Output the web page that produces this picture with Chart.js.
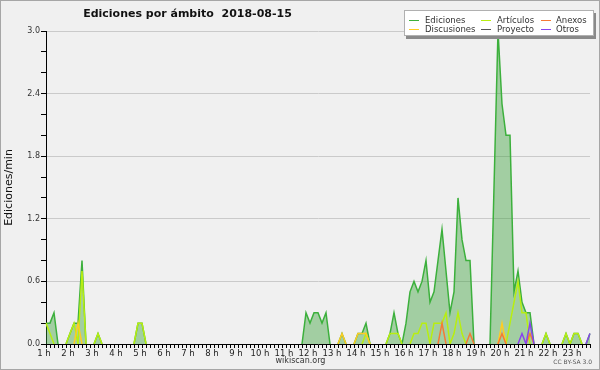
<!DOCTYPE html>
<html>
<head>
<meta charset="utf-8">
<script src="https://cdn.jsdelivr.net/npm/chart.js@4/dist/chart.umd.min.js"></script>
<style>
html,body{margin:0;padding:0;background:#f0f0f0;}
#wrap{position:relative;width:600px;height:370px;background:#f0f0f0;overflow:hidden;font-family:"DejaVu Sans",sans-serif;}
#c{position:absolute;left:0;top:0;}
#frame{position:absolute;left:0;top:0;width:600px;height:370px;box-sizing:border-box;border:1px solid #a6a6a6;pointer-events:none;}
#title{position:absolute;left:0;top:8px;width:375px;text-align:center;font-weight:bold;font-size:11px;line-height:12px;color:#111;white-space:pre;}
#legend{position:absolute;left:404px;top:10px;width:188px;height:24px;background:#fff;border:1px solid #b0b0b0;box-shadow:2px 3px 0 #8a8a8a;}
.sw{position:absolute;width:10px;height:1px;}
.lt{position:absolute;font-size:8.5px;line-height:10px;color:#333;white-space:pre;}
#site{position:absolute;left:250px;width:101px;top:356px;text-align:center;font-size:8px;line-height:10px;color:#333;}
#lic{position:absolute;left:540px;width:52px;top:358px;text-align:right;font-size:6px;line-height:8px;color:#555;}
</style>
</head>
<body>
<div id="wrap">
<canvas id="c" width="600" height="370"></canvas>
<div id="title">Ediciones por ámbito  2018-08-15</div>
<div id="legend"></div>
<div id="site">wikiscan.org</div>
<div id="lic">CC BY-SA 3.0</div>
<div id="frame"></div>
</div>
<script>
// Tick labels of the time axis (one per hour, every 6th 10-minute sample)
const hourLabels = ["1 h","2 h","3 h","4 h","5 h","6 h","7 h","8 h","9 h","10 h","11 h","12 h",
  "13 h","14 h","15 h","16 h","17 h","18 h","19 h","20 h","21 h","22 h","23 h"];

// Edits per minute, one value per 10 minutes starting at 1:00
const ediciones = [
  0.2,0.2,0.3,0,0,0,
  0.1,0.2,0.2,0.8,0,0,
  0,0.1,0,0,0,0,
  0,0,0,0,0,0.2,
  0.2,0,0,0,0,0,
  0,0,0,0,0,0,
  0,0,0,0,0,0,
  0,0,0,0,0,0,
  0,0,0,0,0,0,
  0,0,0,0,0,0,
  0,0,0,0,0,0.3,
  0.2,0.3,0.3,0.2,0.3,0,
  0,0,0.1,0,0,0,
  0.1,0.1,0.2,0,0,0,
  0,0,0.1,0.3,0.1,0,
  0.2,0.5,0.6,0.5,0.6,0.8,
  0.4,0.5,0.8,1.1,0.7,0.3,
  0.5,1.4,1.0,0.8,0.8,0,
  0,0,0,0,1.5,3.0,
  2.3,2.0,2.0,0.5,0.7,0.4,
  0.3,0.3,0,0,0,0.1,
  0,0,0,0,0.1,0,
  0.1,0.1,0,0,0.1
];
const articulos = [
  0.2,0.1,0,0,0,0,
  0.1,0.2,0,0.7,0,0,
  0,0.1,0,0,0,0,
  0,0,0,0,0,0.2,
  0.2,0,0,0,0,0,
  0,0,0,0,0,0,
  0,0,0,0,0,0,
  0,0,0,0,0,0,
  0,0,0,0,0,0,
  0,0,0,0,0,0,
  0,0,0,0,0,0,
  0,0,0,0,0,0,
  0,0,0,0,0,0,
  0,0,0.1,0,0,0,
  0,0,0.1,0.1,0.1,0,
  0,0,0.1,0.1,0.2,0.2,
  0,0.2,0.2,0.2,0.3,0,
  0.1,0.3,0.1,0,0,0,
  0,0,0,0,0,0,
  0,0,0.2,0.4,0.6,0.3,
  0.3,0,0,0,0,0.1,
  0,0,0,0,0.1,0,
  0.1,0.1,0,0,0
];
const anexos = [
  0,0,0,0,0,0,
  0,0,0,0,0,0,
  0,0,0,0,0,0,
  0,0,0,0,0,0,
  0,0,0,0,0,0,
  0,0,0,0,0,0,
  0,0,0,0,0,0,
  0,0,0,0,0,0,
  0,0,0,0,0,0,
  0,0,0,0,0,0,
  0,0,0,0,0,0,
  0,0,0,0,0,0,
  0,0,0,0,0,0,
  0,0,0,0,0,0,
  0,0,0,0,0,0,
  0,0,0,0,0,0,
  0,0,0,0.2,0,0,
  0,0,0,0,0.1,0,
  0,0,0,0,0,0,
  0.1,0,0,0,0,0,
  0,0.1,0,0,0,0,
  0,0,0,0,0,0,
  0,0,0,0,0
];
const discusiones = [
  0,0,0,0,0,0,
  0,0,0.2,0,0,0,
  0,0,0,0,0,0,
  0,0,0,0,0,0,
  0,0,0,0,0,0,
  0,0,0,0,0,0,
  0,0,0,0,0,0,
  0,0,0,0,0,0,
  0,0,0,0,0,0,
  0,0,0,0,0,0,
  0,0,0,0,0,0,
  0,0,0,0,0,0,
  0,0,0.1,0,0,0,
  0.1,0.1,0.1,0,0,0,
  0,0,0,0,0,0,
  0,0,0,0,0,0,
  0,0,0,0,0,0,
  0,0,0,0,0,0,
  0,0,0,0,0,0,
  0.2,0,0,0,0,0,
  0,0,0,0,0,0,
  0,0,0,0,0,0,
  0,0,0,0,0
];
const proyecto = [
  0,0,0,0,0,0, 0,0,0,0,0,0, 0,0,0,0,0,0, 0,0,0,0,0,0,
  0,0,0,0,0,0, 0,0,0,0,0,0, 0,0,0,0,0,0, 0,0,0,0,0,0,
  0,0,0,0,0,0, 0,0,0,0,0,0, 0,0,0,0,0,0, 0,0,0,0,0,0,
  0,0,0,0,0,0, 0,0,0,0,0,0, 0,0,0,0,0,0, 0,0,0,0,0,0,
  0,0,0,0,0,0, 0,0,0,0,0,0, 0,0,0,0,0,0, 0,0,0,0,0,0,
  0,0,0,0,0,0, 0,0,0,0,0,0, 0,0,0,0,0
];
const otros = [
  0,0,0,0,0,0,
  0,0,0,0,0,0,
  0,0,0,0,0,0,
  0,0,0,0,0,0,
  0,0,0,0,0,0,
  0,0,0,0,0,0,
  0,0,0,0,0,0,
  0,0,0,0,0,0,
  0,0,0,0,0,0,
  0,0,0,0,0,0,
  0,0,0,0,0,0,
  0,0,0,0,0,0,
  0,0,0,0,0,0,
  0,0,0,0,0,0,
  0,0,0,0,0,0,
  0,0,0,0,0,0,
  0,0,0,0,0,0,
  0,0,0,0,0,0,
  0,0,0,0,0,0,
  0,0,0,0,0,0.1,
  0,0.2,0,0,0,0,
  0,0,0,0,0,0,
  0,0,0,0,0.1
];

// Category labels: 10-minute slots from 1:00
const categories = ediciones.map((_, i) => {
  const m = 60 + i * 10;
  return Math.floor(m / 60) + ':' + String(m % 60).padStart(2, '0');
});

const series = [
  {label:'Ediciones',   data:ediciones,   color:'#3cb03c'},
  {label:'Artículos',   data:articulos,   color:'#b8ee10'},
  {label:'Anexos',      data:anexos,      color:'#f57a35'},
  {label:'Discusiones', data:discusiones, color:'#ffcc22'},
  {label:'Proyecto',    data:proyecto,    color:'#555555'},
  {label:'Otros',       data:otros,       color:'#8844ee'}
];

// HTML legend (box drawn on top of the plot, as in the reference)
const legendPos = [
  {lx:4,  tx:20,  row:0}, {lx:76, tx:92, row:0}, {lx:136, tx:151, row:0},
  {lx:4,  tx:20,  row:1}, {lx:76, tx:92, row:1}, {lx:136, tx:151, row:1}
];
const legOrder = ['Ediciones','Artículos','Anexos','Discusiones','Proyecto','Otros'];
const legEl = document.getElementById('legend');
legOrder.forEach((name, k) => {
  const s = series.find(d => d.label === name);
  const p = legendPos[k];
  const sw = document.createElement('div');
  sw.className = 'sw';
  sw.style.left = p.lx + 'px';
  sw.style.top = (p.row ? 18 : 8.5) + 'px';
  sw.style.background = s.color;
  legEl.appendChild(sw);
  const t = document.createElement('div');
  t.className = 'lt';
  t.style.left = p.tx + 'px';
  t.style.top = (p.row ? 13 : 3.5) + 'px';
  t.textContent = name;
  legEl.appendChild(t);
});

const isMajor = v => Math.abs(v / 0.6 - Math.round(v / 0.6)) < 1e-6;
const hideZero = ctx => (ctx.p0.parsed.y === 0 && ctx.p1.parsed.y === 0) ? 'rgba(0,0,0,0)' : undefined;

Chart.defaults.font.family = 'DejaVu Sans';

const drawOrder = {'Ediciones':6,'Artículos':5,'Proyecto':4,'Discusiones':3,'Anexos':2,'Otros':1};
const datasets = series.map(s => ({
  label: s.label,
  data: s.data,
  borderColor: s.color,
  backgroundColor: s.label === 'Ediciones' ? 'rgba(55,160,55,0.42)' : s.color,
  fill: s.label === 'Ediciones' ? 'origin' : false,
  borderWidth: 1.5,
  order: drawOrder[s.label],
  segment: {borderColor: hideZero}
}));

new Chart(document.getElementById('c'), {
  type: 'line',
  data: {labels: categories, datasets},
  options: {
    responsive: false,
    animation: false,
    devicePixelRatio: 1,
    layout: {padding: {top: 31, right: 10, left: 0, bottom: 0}},
    elements: {point: {radius: 0, hoverRadius: 0}, line: {tension: 0}},
    plugins: {legend: {display: false}, title: {display: false}, tooltip: {enabled: false}},
    events: [],
    scales: {
      x: {
        z: 1,
        grid: {drawOnChartArea: false, tickLength: 4, color: '#000', tickColor: '#000'},
        border: {color: '#000', width: 1},
        ticks: {
          autoSkip: false, maxRotation: 0, minRotation: 0, padding: 1, labelOffset: -2,
          font: {size: 8.5}, color: '#222',
          callback: (v, i) => (i % 6 === 0 && hourLabels[i / 6]) ? hourLabels[i / 6] : ''
        },
        afterFit: s => { s.height = 26; }
      },
      y: {
        min: 0, max: 3,
        grid: {
          color: c => (c.tick && isMajor(c.tick.value)) ? '#cacaca' : 'rgba(0,0,0,0)',
          tickColor: '#000', tickLength: 5
        },
        border: {color: '#000', width: 1},
        ticks: {
          stepSize: 0.2, autoSkip: false, padding: 1,
          font: {size: 8}, color: '#333',
          callback: v => isMajor(v) ? v.toFixed(1) : ''
        },
        title: {display: true, text: 'Ediciones/min', font: {size: 11}, color: '#111', padding: {top: 3, bottom: 3}},
        afterFit: s => { s.width = 46; }
      }
    }
  }
});
</script>
</body>
</html>
